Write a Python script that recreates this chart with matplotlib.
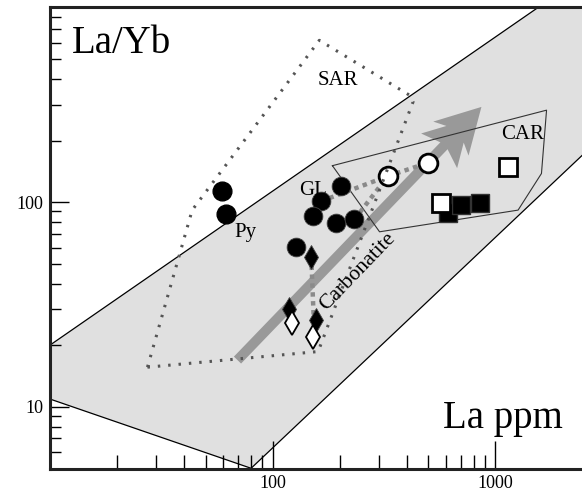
import numpy as np
import matplotlib
matplotlib.use("Agg")
import matplotlib.pyplot as plt
from matplotlib.patches import Polygon
from matplotlib.ticker import NullFormatter

plt.rcParams['font.family'] = ['Liberation Serif', 'DejaVu Serif']

# fields (La ppm vs La/Yb)
band_la = [10, 10, 5000, 5000, 80]
band_ratio = [10.9, 20, 2154, 352, 5]

sar_la = [27.4, 160, 427, 412, 162, 43.5, 27.4]
sar_ratio = [15.6, 18.6, 309, 333, 618, 91.4, 15.6]

car_la = [185.5, 1698, 1611, 1265, 302, 185.5]
car_ratio = [150.7, 281.5, 138, 91.4, 71.6, 150.7]

trend_la = [69.5, 866]
trend_ratio = [16.9, 292]

# samples
py_la = [59.2, 61.7]
py_ratio = [113.6, 87.1]
gl_la = [203, 165, 151.4, 192.8, 233, 127.4]
gl_ratio = [120, 101, 85.4, 79.2, 82.3, 60.1]
dia_black_la = [148.8, 118, 156.8]
dia_black_ratio = [54.1, 30.2, 26.5]
dia_white_la = [122.3, 152.5]
dia_white_ratio = [25.6, 22.0]
open_la = [329, 498]
open_ratio = [134, 155.6]
sq_black_la = [615, 704, 851]
sq_black_ratio = [88.4, 97.2, 99.4]
sq_white_la = [570, 1140]
sq_white_ratio = [98.5, 147.7]

# grey links between samples
link1_la = [165, 329, 498]
link1_ratio = [101, 134, 155.6]
link2_la = [233, 329]
link2_ratio = [82.3, 134]
link3_la = [149, 153]
link3_ratio = [54.1, 26.5]

x_major = [100, 1000]
x_minor = [20, 30, 40, 50, 60, 70, 80, 90, 200, 300, 400, 500, 600, 700, 800, 900]
y_major = [10, 100]
y_minor = [6, 7, 8, 9, 20, 30, 40, 50, 60, 70, 80, 90, 200, 300, 400, 500, 600, 700, 800]

fig = plt.figure(figsize=(5.82, 4.94), dpi=100)
ax = fig.add_axes([50 / 582, 25 / 494, 532 / 582, 462 / 494])
ax.set_xscale('log')
ax.set_yscale('log')
ax.set_xlim(10, 2450)
ax.set_ylim(4.96, 899)

ax.add_patch(Polygon(np.column_stack([band_la, band_ratio]), closed=True,
                     fc='#e0e0e0', ec='black', lw=0.9, zorder=1))

# carbonatite trend arrow
tail, tip = ax.transData.transform(np.column_stack([trend_la, trend_ratio]))
u = (tip - tail) / np.hypot(*(tip - tail))
n = np.array([-u[1], u[0]])
head_shape = [(0, 0), (44, 24.5), (38, 12), (61, 25), (54, 5),
              (54, -5), (61, -25), (38, -12), (44, -24.5)]
head = np.array([tip - a * u + b * n for a, b in head_shape])
head = ax.transData.inverted().transform(head)
ax.add_patch(Polygon(head, closed=True, fc='#999999', ec='none', zorder=2))
body = ax.transData.inverted().transform(np.array([tail, tip - 52 * u]))
ax.plot(body[:, 0], body[:, 1], color='#999999', lw=7.2,
        solid_capstyle='butt', zorder=2)
angle = np.degrees(np.arctan2(u[1], u[0]))

ax.plot(car_la, car_ratio, color='#333333', lw=0.8, zorder=3)

for lx, ly in [(link1_la, link1_ratio), (link2_la, link2_ratio), (link3_la, link3_ratio)]:
    ax.plot(lx, ly, color='#8a8a8a', lw=3.2, ls=(0, (1, 1)), zorder=3.5)

ax.plot(py_la, py_ratio, 'o', ms=13.5, mfc='black', mec='black', ls='none', zorder=4)
ax.plot(gl_la, gl_ratio, 'o', ms=13.5, mfc='black', mec='#444444', mew=0.6, ls='none', zorder=4)
ax.plot(dia_black_la, dia_black_ratio, 'd', ms=12.5, mfc='black', mec='#444444', mew=0.6, ls='none', zorder=4)
ax.plot(dia_white_la, dia_white_ratio, 'd', ms=12.5, mfc='white', mec='black', mew=1.3, ls='none', zorder=4)
ax.plot(open_la, open_ratio, 'o', ms=13.5, mfc='white', mec='black', mew=2, ls='none', zorder=4)
ax.plot(sq_black_la, sq_black_ratio, 's', ms=13.5, mfc='black', mec='#333333', mew=1, ls='none', zorder=4)
ax.plot(sq_white_la, sq_white_ratio, 's', ms=13.5, mfc='white', mec='black', mew=2, ls='none', zorder=4)

ax.plot(sar_la, sar_ratio, color='#555555', lw=2.2, ls=(0, (0.8, 2.6)), zorder=5)

ax.text(159.4, 373, 'SAR', fontsize=15, va='baseline', zorder=6)
ax.text(1065, 202.4, 'CAR', fontsize=15, va='baseline', zorder=6)
ax.text(130.9, 108.2, 'GL', fontsize=15, va='baseline', zorder=6)
ax.text(67.3, 67.2, 'Py', fontsize=15, va='baseline', zorder=6)
ax.text(240, 45.5, 'Carbonatite', fontsize=15.5, rotation=angle,
        rotation_mode='anchor', ha='center', va='center', zorder=6)
ax.text(0.041, 0.900, 'La/Yb', transform=ax.transAxes, fontsize=28, va='baseline')
ax.text(0.739, 0.088, 'La ppm', transform=ax.transAxes, fontsize=28, va='baseline')

ax.set_xticks(x_major, labels=['100', '1000'])
ax.set_xticks(x_minor, minor=True)
ax.set_yticks(y_major, labels=['10', '100'])
ax.set_yticks(y_minor, minor=True)
ax.xaxis.set_minor_formatter(NullFormatter())
ax.yaxis.set_minor_formatter(NullFormatter())
ax.tick_params(axis='x', which='major', direction='in', length=20, width=1, labelsize=13, pad=4)
ax.tick_params(axis='x', which='minor', direction='in', length=10, width=1)
ax.tick_params(axis='y', which='major', direction='in', length=14, width=1, labelsize=13, pad=5)
ax.tick_params(axis='y', which='minor', direction='in', length=8, width=1)
for side in ['left', 'bottom', 'top']:
    ax.spines[side].set_linewidth(2.2)
    ax.spines[side].set_color('#222222')
ax.spines['right'].set_visible(False)

fig.savefig('out.png', dpi=100)
